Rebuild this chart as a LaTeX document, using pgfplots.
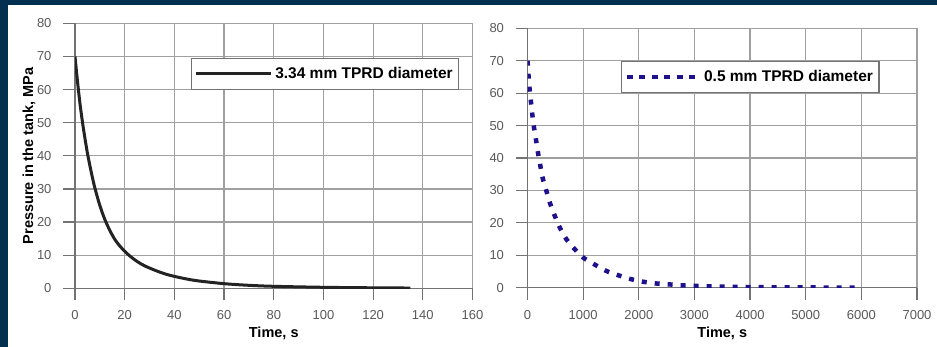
\documentclass[border=0pt]{standalone}
\usepackage{pgfplots}
\pgfplotsset{compat=1.18}
\usepackage{fontspec}
\setmainfont{Liberation Sans}
\definecolor{navy}{RGB}{4,48,80}
\definecolor{gridc}{RGB}{160,160,160}
\definecolor{axc}{RGB}{115,115,115}
\definecolor{tickc}{RGB}{90,90,90}
\definecolor{dotc}{RGB}{30,18,140}
\definecolor{curvec}{RGB}{35,35,35}
\pgfplotsset{
  common/.style={
    scale only axis,
    axis lines=left,
    axis line style={draw=axc, line width=1.2pt, -},
    grid=major,
    major grid style={draw=gridc, line width=1.2pt},
    tick align=outside,
    major tick length=12pt,
    tick style={draw=axc, line width=1.2pt},
    ymin=0, ymax=80, ytick={0,10,...,80},
    /pgf/number format/assume math mode=true,
    ticklabel style={font=\fontsize{13}{15}\selectfont, text=tickc},
    xticklabel style={yshift=-7pt},
    yticklabel style={xshift=-8pt},
    label style={font=\fontsize{14.5}{16}\selectfont\bfseries},
    xlabel={Time, s},
    legend cell align=left,
    legend style={draw=axc, line width=1.2pt, fill=white,
      font=\fontsize{15.5}{17}\selectfont\bfseries,
      inner xsep=3pt, inner ysep=6pt,
      nodes={inner sep=3pt},
      /tikz/every even column/.append style={column sep=2pt}},
  }
}
\begin{document}
\begin{tikzpicture}
\path[use as bounding box] (0pt,0pt) rectangle (937pt,-347pt);
\fill[navy] (0pt,0pt) rectangle (937pt,-347pt);
\fill[white] (8pt,-5pt) rectangle (937pt,-347pt);

\begin{axis}[common,
  at={(75pt,-288.3pt)}, anchor=south west,
  width=397.5pt, height=265pt,
  xmin=0, xmax=160, xtick={0,20,...,160},
  ylabel={Pressure in the tank, MPa},
  ylabel style={at={(axis description cs:-0.1157,0.5)}, anchor=center},
  xlabel style={at={(axis description cs:0.5,-0.17)}, anchor=center},
  legend style={at={(0.291,0.869)}, anchor=north west},
  legend image code/.code={\draw[#1] (0pt,0pt) -- (75pt,0pt);},
]
\addplot[curvec, line width=3pt, smooth] coordinates {
(0,70) (1,62.5) (2,55.8) (3,50.2) (4,45.3) (5,40.8) (6,37) (7,33.5) (8,30.3)
(10,25) (12,20.8) (14,17.5) (16,14.8) (18,12.8) (20,11.2) (22,9.8) (25,8.1)
(28,6.8) (32,5.5) (36,4.4) (40,3.6) (45,2.8) (50,2.2) (60,1.4) (70,0.9)
(80,0.6) (100,0.3) (120,0.15) (135,0.08)};
\addlegendentry{3.34 mm TPRD diameter}
\end{axis}

\begin{axis}[common,
  at={(527.5pt,-287.7pt)}, anchor=south west,
  width=389.5pt, height=259.4pt,
  xmin=0, xmax=7000, xtick={0,1000,...,7000},
  scaled x ticks=false,
  xticklabel style={/pgf/number format/1000 sep={}},
  xlabel style={at={(axis description cs:0.5,-0.176)}, anchor=center},
  legend style={at={(0.24,0.874)}, anchor=north west},
  legend image code/.code={\draw[#1,dash pattern=on 6pt off 6.5pt] (0pt,0pt) -- (72pt,0pt);},
]
\addplot[dotc, line width=4.5pt, dash pattern=on 5pt off 8pt, smooth] coordinates {
(0,70) (18,65.5) (36,61.6) (61,57.5) (85,53.6) (115,49.6) (152,45.7) (188,41.7)
(230,37.7) (273,33.8) (339,29.9) (406,26) (485,22.4) (576,18.7) (697,15) (848,11.9)
(1000,9.3) (1212,7.1) (1412,5.2) (1636,3.8) (1867,2.6) (2091,1.8) (2315,1.3)
(2564,1.0) (2806,0.7) (3200,0.45) (3600,0.3) (4000,0.2) (4500,0.12) (5000,0.08)
(5500,0.05) (6000,0.03)};
\addlegendentry{0.5 mm TPRD diameter}
\end{axis}
\end{tikzpicture}
\end{document}
